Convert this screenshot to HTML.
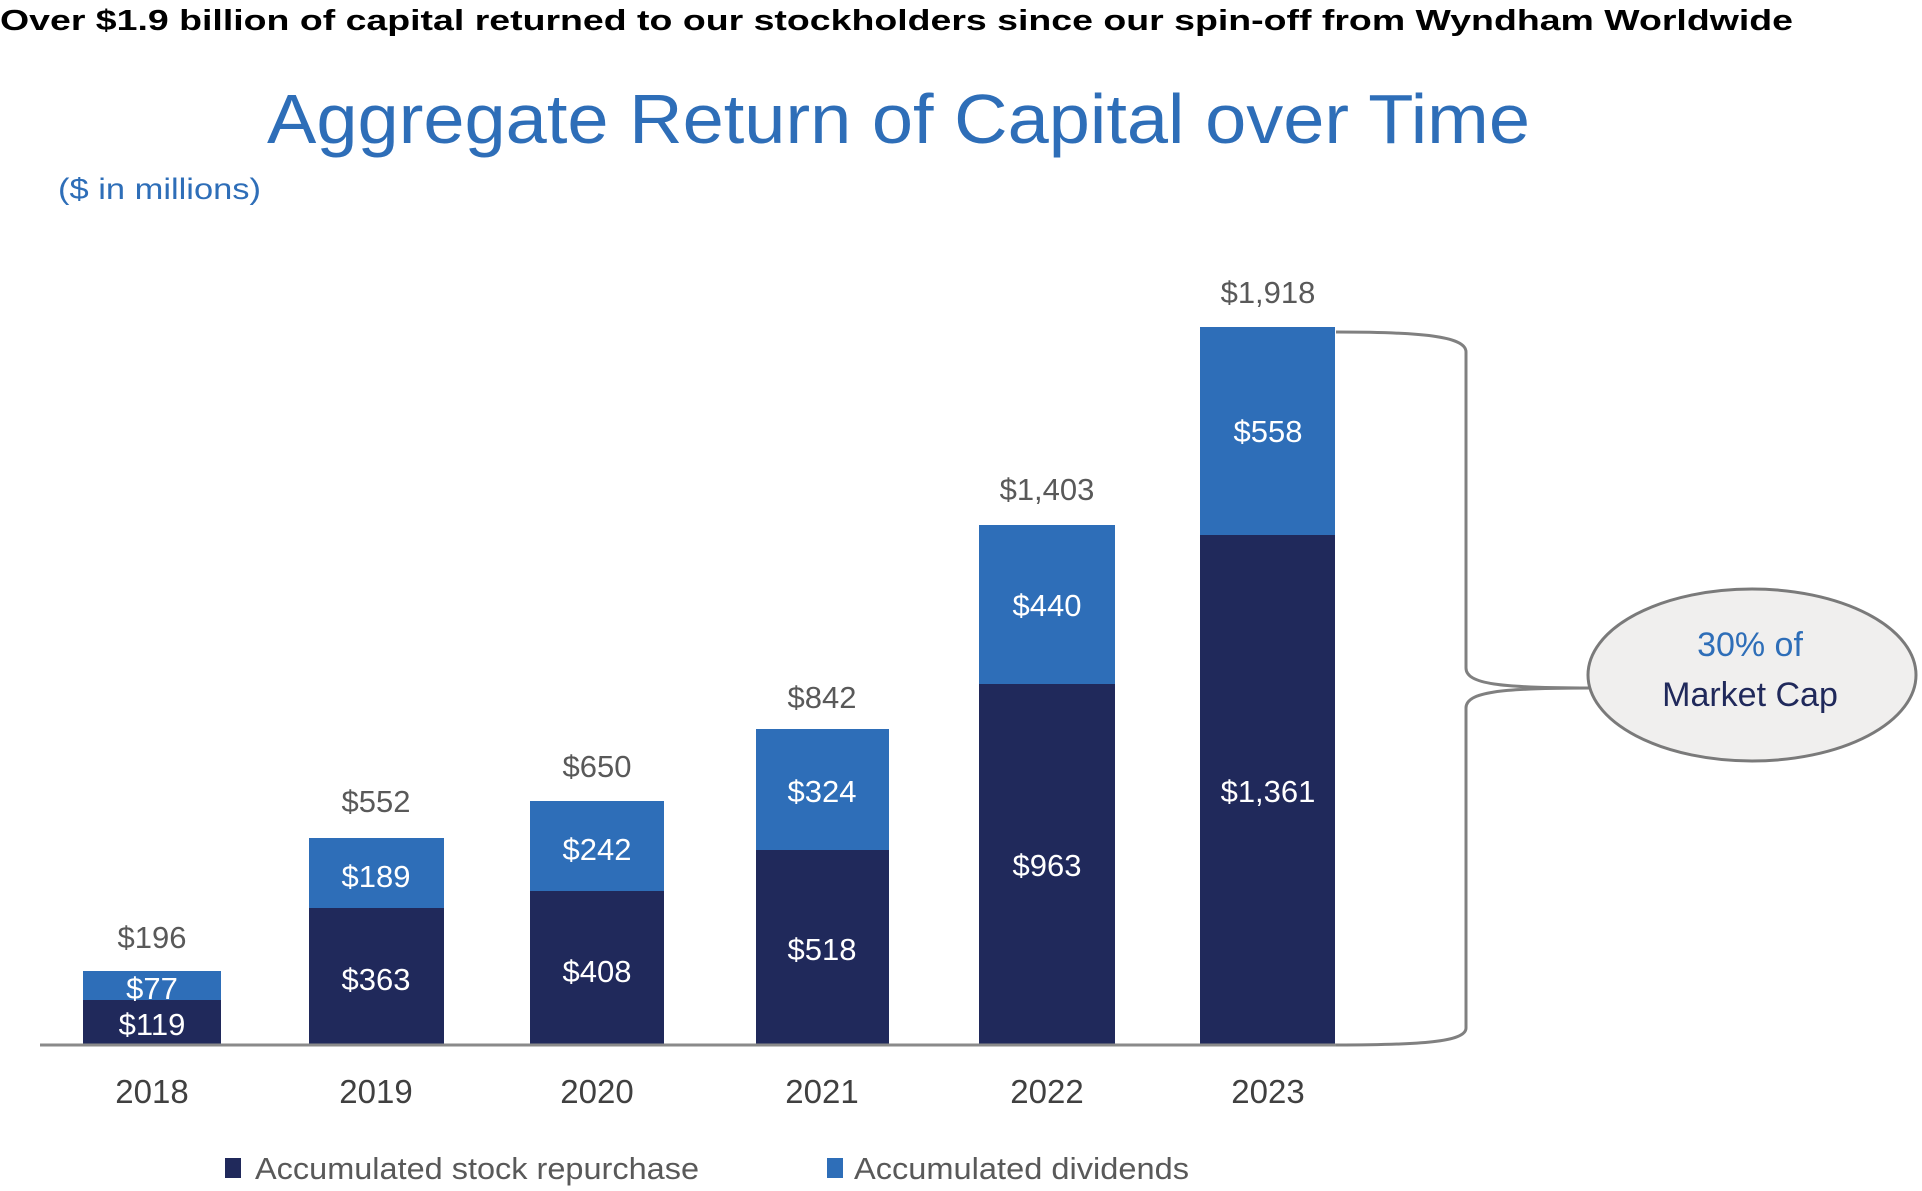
<!DOCTYPE html>
<html><head><meta charset="utf-8"><style>
html,body{margin:0;padding:0;background:#fff;}
svg{display:block;}
</style></head><body>
<svg width="1922" height="1191" viewBox="0 0 1922 1191" xmlns="http://www.w3.org/2000/svg" font-family="Liberation Sans, sans-serif">
<text x="0" y="30" font-size="29" font-weight="bold" fill="#000" textLength="1793" lengthAdjust="spacingAndGlyphs">Over $1.9 billion of capital returned to our stockholders since our spin-off from Wyndham Worldwide</text>
<text x="267" y="143" font-size="70" fill="#2e6eb8" textLength="1263" lengthAdjust="spacingAndGlyphs">Aggregate Return of Capital over Time</text>
<text x="58" y="199" font-size="30" fill="#2e6eb8" textLength="203" lengthAdjust="spacingAndGlyphs">($ in millions)</text>

<g>
<rect x="83" y="971" width="138" height="29" fill="#2e6eb8"/><rect x="83" y="1000" width="138" height="44" fill="#20295b"/>
<rect x="309" y="838" width="135" height="70" fill="#2e6eb8"/><rect x="309" y="908" width="135" height="136" fill="#20295b"/>
<rect x="530" y="801" width="134" height="91" fill="#2e6eb8"/><rect x="530" y="891" width="134" height="153" fill="#20295b"/>
<rect x="756" y="729" width="133" height="122" fill="#2e6eb8"/><rect x="756" y="850" width="133" height="194" fill="#20295b"/>
<rect x="979" y="525" width="136" height="160" fill="#2e6eb8"/><rect x="979" y="684" width="136" height="360" fill="#20295b"/>
<rect x="1200" y="327" width="135" height="209" fill="#2e6eb8"/><rect x="1200" y="535" width="135" height="509" fill="#20295b"/>
</g>
<line x1="40" y1="1045" x2="1336" y2="1045" stroke="#8a8a8a" stroke-width="3"/>

<g font-size="31" fill="#fff" text-anchor="middle">
<text x="152" y="999">$77</text><text x="152" y="1035">$119</text>
<text x="376" y="887">$189</text><text x="376" y="990">$363</text>
<text x="597" y="860">$242</text><text x="597" y="982">$408</text>
<text x="822" y="802">$324</text><text x="822" y="960">$518</text>
<text x="1047" y="616">$440</text><text x="1047" y="876">$963</text>
<text x="1268" y="442">$558</text><text x="1268" y="802">$1,361</text>
</g>
<g font-size="31" fill="#595959" text-anchor="middle">
<text x="152" y="948">$196</text>
<text x="376" y="812">$552</text>
<text x="597" y="777">$650</text>
<text x="822" y="708">$842</text>
<text x="1047" y="500">$1,403</text>
<text x="1268" y="303">$1,918</text>
</g>
<g font-size="33" fill="#404040" text-anchor="middle">
<text x="152" y="1103">2018</text><text x="376" y="1103">2019</text><text x="597" y="1103">2020</text>
<text x="822" y="1103">2021</text><text x="1047" y="1103">2022</text><text x="1268" y="1103">2023</text>
</g>

<path d="M1336 332 C1420 332 1466 336 1466 352 L1466 668 C1466 684 1500 688 1590 688 M1590 688 C1500 688 1466 692 1466 708 L1466 1028 C1466 1042 1420 1045 1336 1045" fill="none" stroke="#808080" stroke-width="3"/>
<ellipse cx="1752" cy="675" rx="164" ry="86" fill="#f0efee" stroke="#7a7a7a" stroke-width="3"/>
<text x="1750" y="656" font-size="34" fill="#2e6eb8" text-anchor="middle">30% of</text>
<text x="1750" y="706" font-size="34" fill="#20295b" text-anchor="middle">Market Cap</text>

<rect x="225" y="1158" width="16" height="20" fill="#20295b"/>
<text x="255" y="1179" font-size="31" fill="#595959" textLength="444" lengthAdjust="spacingAndGlyphs">Accumulated stock repurchase</text>
<rect x="827" y="1158" width="16" height="20" fill="#2e6eb8"/>
<text x="854" y="1179" font-size="31" fill="#595959" textLength="335" lengthAdjust="spacingAndGlyphs">Accumulated dividends</text>
</svg>
</body></html>
